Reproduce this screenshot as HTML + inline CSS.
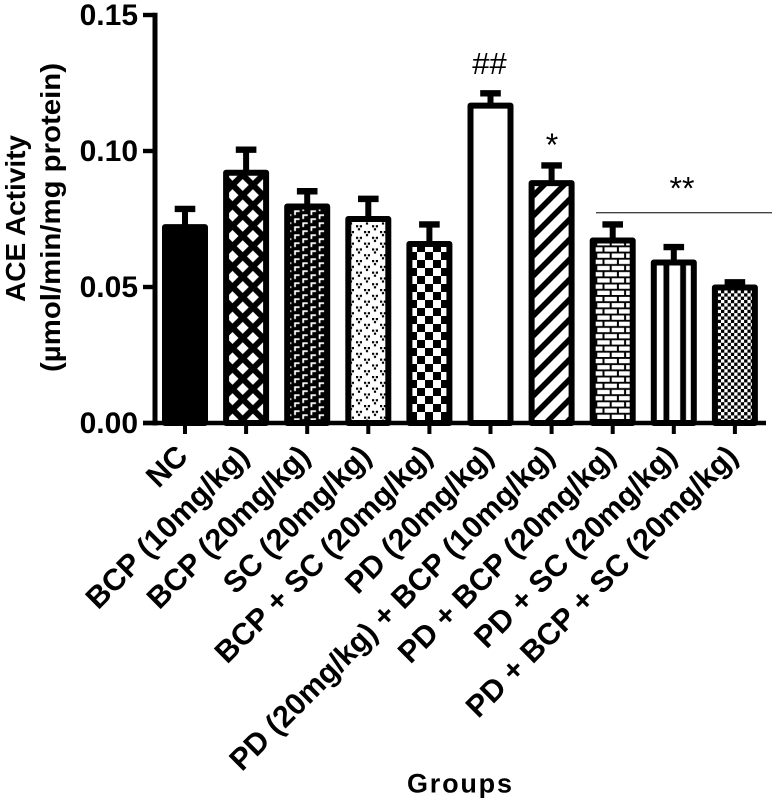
<!DOCTYPE html>
<html>
<head>
<meta charset="utf-8">
<style>
html,body{margin:0;padding:0;background:#fff;}
svg{display:block;}
text{font-family:"Liberation Sans",sans-serif;fill:#000;}
.b{font-weight:bold;}
</style>
</head>
<body>
<svg id="chart" xmlns="http://www.w3.org/2000/svg" width="774" height="802" viewBox="0 0 774 802">
<defs>
<pattern id="p-cross" patternUnits="userSpaceOnUse" width="20.4" height="20.4" x="232.5" y="174.8">
<rect width="20.4" height="20.4" fill="#000"/>
<path d="M10.2 4.2L16.2 10.2L10.2 16.2L4.2 10.2Z" fill="#fff"/>
<path d="M0 -6L6 0L0 6L-6 0ZM20.4 -6L26.4 0L20.4 6L14.4 0ZM0 14.4L6 20.4L0 26.4L-6 20.4ZM20.4 14.4L26.4 20.4L20.4 26.4L14.4 20.4Z" fill="#fff"/>
</pattern>
<pattern id="p-ell" patternUnits="userSpaceOnUse" width="16.4" height="8" x="300.3" y="213.3">
<rect width="16.4" height="8" fill="#000"/>
<path d="M2 1h5.5v1.8h-3.7v2.9h-1.8zM10.2 5h5.5v1.8h-3.7v1.2h-1.8zM10.2 0h1.8v1.7h-1.8z" fill="#fff"/>
</pattern>
<pattern id="p-dots" patternUnits="userSpaceOnUse" width="16" height="11.6" x="355" y="224.7">
<rect width="16" height="11.6" fill="#fff"/>
<path d="M1 .5h2.2v2.2h-2.2zM4.8 .5h2.2v2.2h-2.2zM2.9 3.5h2.2v2.2h-2.2zM9 6.3h2.2v2.2h-2.2zM12.8 6.3h2.2v2.2h-2.2zM10.9 9.3h2.2v2.2h-2.2z" fill="#000"/>
</pattern>
<pattern id="p-check" patternUnits="userSpaceOnUse" width="16" height="16" x="417" y="244">
<rect width="16" height="16" fill="#fff"/>
<path d="M0 0h8v8h-8zM8 8h8v8h-8z" fill="#000"/>
</pattern>
<pattern id="p-diag" patternUnits="userSpaceOnUse" width="20" height="20" x="530" y="219">
<rect width="20" height="20" fill="#fff"/>
<path d="M-5 5L5 -5M-5 25L25 -5M15 25L25 15" stroke="#000" stroke-width="5.6"/>
</pattern>
<pattern id="p-brick" patternUnits="userSpaceOnUse" width="14.4" height="12.4" x="603.6" y="246.4">
<rect width="14.4" height="12.4" fill="#000"/>
<path d="M.9 .9h12.4v4.3h-12.4zM0 7.1h6.1v4.3h-6.1zM8.1 7.1h6.3v4.3h-6.3z" fill="#fff"/>
</pattern>
<pattern id="p-vert" patternUnits="userSpaceOnUse" width="16.7" height="20" x="656.3" y="260">
<rect width="16.7" height="20" fill="#fff"/>
<rect x="7.2" width="5.8" height="20" fill="#000"/>
</pattern>
<pattern id="p-fine" patternUnits="userSpaceOnUse" width="6.6" height="6.6" x="721" y="290">
<rect width="6.6" height="6.6" fill="#fff"/>
<path d="M0 0h3.3v3.3h-3.3zM3.3 3.3h3.3v3.3h-3.3z" fill="#000"/>
</pattern>
</defs>
<g id="bars"></g>
<g id="axes"></g>
<g id="labels"></g>
<text class="b" font-size="28" text-anchor="middle" transform="translate(25 218.5) rotate(-90)">ACE Activity</text>
<text class="b" font-size="28" text-anchor="middle" transform="translate(60 217.5) rotate(-90)" textLength="309" lengthAdjust="spacingAndGlyphs">(µmol/min/mg protein)</text>
<text class="b" font-size="27" x="407" y="792.5" textLength="105" lengthAdjust="spacing">Groups</text>
<text font-size="31" text-anchor="middle" x="489.5" y="74">##</text>
<text font-size="32" text-anchor="middle" x="552" y="156">*</text>
<text font-size="32" text-anchor="middle" x="682" y="199.5">**</text>
<line x1="596" x2="772" y1="212.7" y2="212.7" stroke="#444" stroke-width="1.4"/>
</svg>
<script>
const categories = ["NC","BCP (10mg/kg)","BCP (20mg/kg)","SC (20mg/kg)","BCP + SC (20mg/kg)","PD (20mg/kg)","PD (20mg/kg) + BCP (10mg/kg)","PD + BCP (20mg/kg)","PD + SC (20mg/kg)","PD + BCP + SC (20mg/kg)"];
const means = [0.072,0.092,0.0796,0.075,0.0658,0.1167,0.0882,0.0671,0.059,0.0498];
const errors = [0.0067,0.0085,0.0056,0.0074,0.0072,0.0045,0.0065,0.0059,0.0057,0.0019];
const fills = ["#000","url(#p-cross)","url(#p-ell)","url(#p-dots)","url(#p-check)","#fff","url(#p-diag)","url(#p-brick)","url(#p-vert)","url(#p-fine)"];
const yTicks = [0,0.05,0.10,0.15];
const yTickLabels = ["0.00","0.05","0.10","0.15"];

const NS = "http://www.w3.org/2000/svg";
const yScale = v => 423 - v * 2720;
const xScale = i => 185 + i * 61.1;
function mk(parent, tag, attrs){
  const el = document.createElementNS(NS, tag);
  for (const k in attrs) el.setAttribute(k, attrs[k]);
  parent.appendChild(el);
  return el;
}
const barsG = document.getElementById("bars");
const axesG = document.getElementById("axes");
const labelsG = document.getElementById("labels");

categories.forEach((c, i) => {
  const x = xScale(i), top = yScale(means[i]), errTop = yScale(means[i] + errors[i]);
  const stem = mk(barsG, "line", {x1:x, x2:x, y1:top, y2:errTop, stroke:"#000", "stroke-width":6});
  
  
  const cap = mk(barsG, "line", {x1:x-10.3, x2:x+10.3, y1:errTop, y2:errTop, stroke:"#000", "stroke-width":6.4});
  
  
  const bar = mk(barsG, "rect", {x:x-20, y:top, width:40, height:yScale(0)-top, fill:fills[i], stroke:"#000", "stroke-width":6, "stroke-linejoin":"round"});
  
  
  const tick = mk(axesG, "line", {x1:x, x2:x, y1:423, y2:434, stroke:"#000", "stroke-width":4});
  
  
  const label = mk(labelsG, "text", {"text-anchor":"end", "font-size":30.4, "font-weight":"bold", transform:`translate(${x+4.5} 458) rotate(-45)`});
  
  
  label.textContent = c;
});

yTicks.forEach((t, i) => {
  const y = yScale(t);
  const tick = mk(axesG, "line", {x1:143, x2:155, y1:y, y2:y, stroke:"#000", "stroke-width":4.4});
  
  
  const label = mk(labelsG, "text", {x:138, y:y+10, "text-anchor":"end", "font-size":30, "font-weight":"bold"});
  
  
  label.textContent = yTickLabels[i];
});
const yAxis = mk(axesG, "line", {x1:155, x2:155, y1:yScale(0.15)-2.2, y2:yScale(0)+2.5, stroke:"#000", "stroke-width":5});


const xAxis = mk(axesG, "line", {x1:143, x2:766, y1:yScale(0), y2:yScale(0), stroke:"#000", "stroke-width":4.6});


</script>
</body>
</html>
